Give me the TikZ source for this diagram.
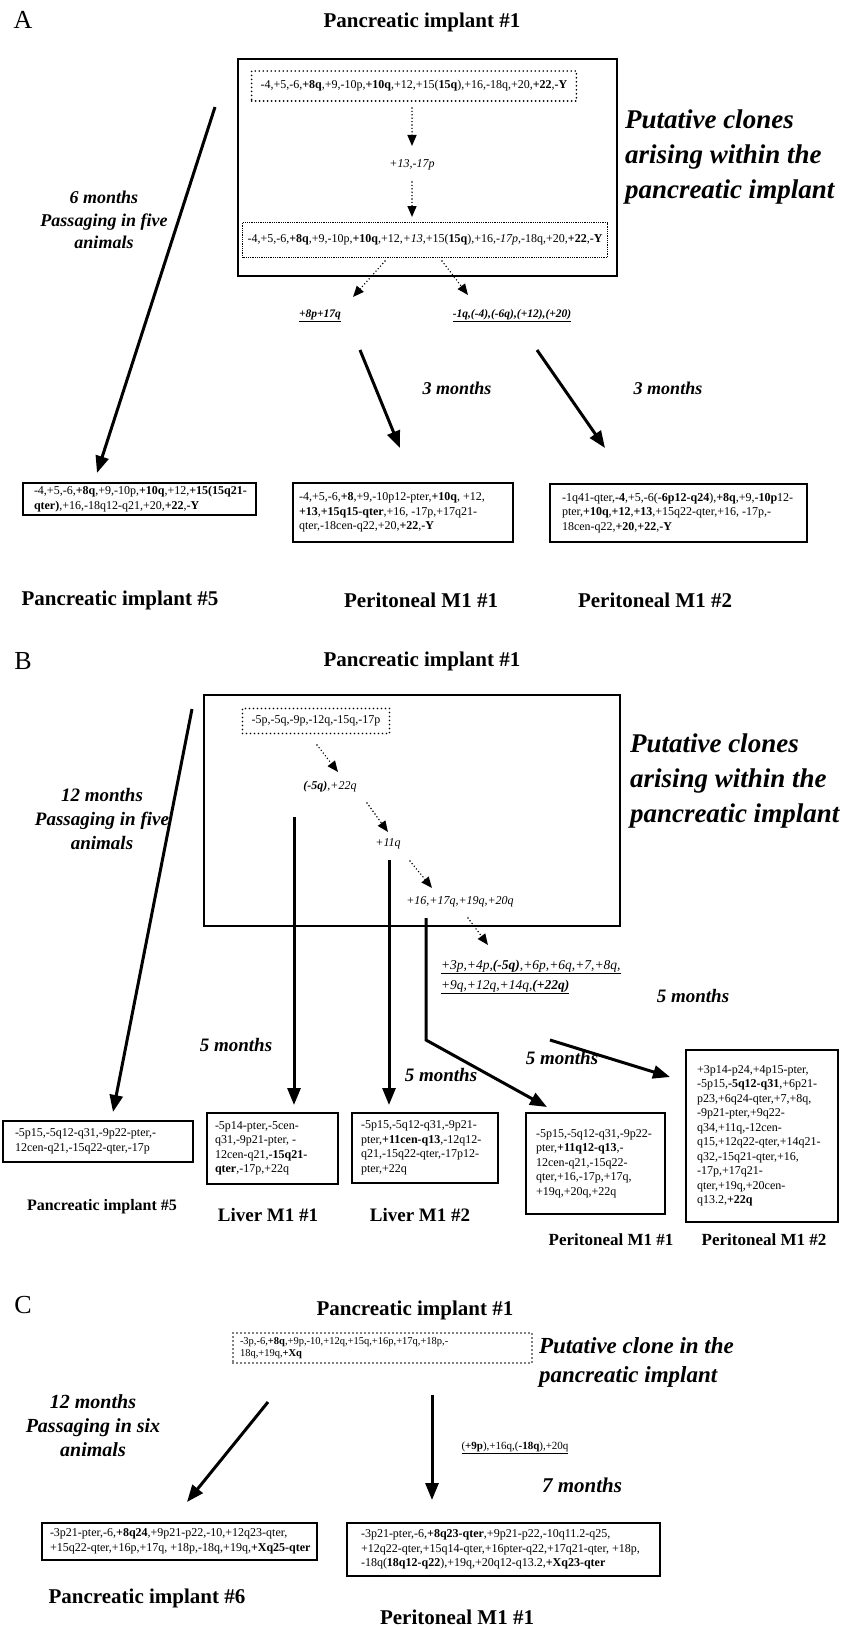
\documentclass[tikz,border=0pt]{standalone}
\usepackage{fontspec}
\setmainfont{Liberation Serif}
\usetikzlibrary{arrows.meta}
\newcommand{\fsz}[2]{\fontsize{#1}{#2}\selectfont}
\begin{document}
\begin{tikzpicture}[x=1pt,y=-1pt,
  every node/.style={inner sep=0pt,outer sep=0pt},
  paneltag/.style={font=\fsz{26}{30}},
  ttl/.style={font=\fsz{21}{25}\bfseries},
  side/.style={font=\fsz{27}{35}\bfseries\itshape,align=left,anchor=west},
  mlab/.style={font=\fsz{18}{22.5}\bfseries\itshape,align=center},
  btxt/.style={font=\fsz{12}{14.5},align=left,anchor=west},
  ittxt/.style={font=\fsz{12}{14.5}\itshape},
  sbox/.style={draw,line width=2.4pt,anchor=north west},
  bigbox/.style={draw,line width=2.6pt,anchor=north west},
  dotbox/.style={draw,line width=1.8pt,dash pattern=on 0pt off 4pt,line cap=round},
  finebox/.style={draw,line width=0.6pt,dash pattern=on 0.7pt off 1.1pt},
  bigarr/.style={line width=3pt,-{Triangle[length=17pt,width=13pt]}},
  dotarr/.style={line width=1.6pt,dash pattern=on 0pt off 3.4pt,line cap=round,-{Triangle[length=11pt,width=9pt]}},
]
\useasboundingbox (0,0) rectangle (849,1627);
\fill[white] (0,0) rectangle (849,1627);

%%%%%%%%%%%%%%%% Panel A
\node[paneltag] (tagA) at (23,20) {A};
\node[ttl] (ttlA) at (422,22) {Pancreatic implant \#1};
\node[bigbox,minimum width=379pt,minimum height=217pt] (bigA) at (238,59) {};
\node[dotbox,font=\fsz{12}{14.5},inner xsep=9pt,minimum height=30pt] (dA1) at (414,86)
  {-4,+5,-6,{\bfseries +8q},+9,-10p,{\bfseries +10q},+12,+15({\bfseries 15q}),+16,-18q,+20,{\bfseries +22},{\bfseries -Y}};
\node[ittxt] (t13) at (412,165) {+13,-17p};
\node[finebox,font=\fsz{12}{14.5},inner xsep=5pt,minimum height=35pt] (dA2) at (425,240)
  {-4,+5,-6,{\bfseries +8q},+9,-10p,{\bfseries +10q},+12,{\itshape +13},+15({\bfseries 15q}),+16,{\itshape -17p},-18q,+20,{\bfseries +22},{\bfseries -Y}};
\node[font=\fsz{11.5}{13}\bfseries\itshape] (l8p) at (320,316) {\underline{+8p+17q}};
\node[font=\fsz{11.5}{13}\bfseries\itshape] (l1q) at (512,316) {\underline{-1q,(-4),(-6q),(+12),(+20)}};

\coordinate (a1s) at (412,108); \coordinate (a1e) at (412,146);
\coordinate (a2s) at (412,182); \coordinate (a2e) at (412,217);
\coordinate (a3s) at (385,261); \coordinate (a3e) at (353,297);
\coordinate (a4s) at (442,261); \coordinate (a4e) at (468,295);
\coordinate (a5s) at (360,350); \coordinate (a5e) at (400,448);
\coordinate (a6s) at (537,350); \coordinate (a6e) at (605,448);
\coordinate (a7s) at (215,107); \coordinate (a7e) at (97,473);
\draw[dotarr] (a1s) -- (a1e);
\draw[dotarr] (a2s) -- (a2e);
\draw[dotarr] (a3s) -- (a3e);
\draw[dotarr] (a4s) -- (a4e);
\draw[bigarr] (a5s) -- (a5e);
\draw[bigarr] (a6s) -- (a6e);
\draw[bigarr] (a7s) -- (a7e);

\node[mlab] (mA1) at (457,388) {3 months};
\node[mlab] (mA2) at (668,388) {3 months};
\node[mlab] (mA0) at (104,220) {6 months\\Passaging in five\\animals};
\node[side] (sA) at (625,157) {Putative clones\\arising within the\\pancreatic implant};

\node[sbox,minimum width=233pt,minimum height=32pt] (bA5) at (23,483) {};
\node[btxt] (tA5) at ([xshift=11pt]bA5.west)
  {-4,+5,-6,{\bfseries +8q},+9,-10p,{\bfseries +10q},+12,{\bfseries +15(15q21-}\\{\bfseries qter)},+16,-18q12-q21,+20,{\bfseries +22},{\bfseries -Y}};
\node[sbox,minimum width=220pt,minimum height=59pt] (bAP1) at (293,483) {};
\node[btxt] (tAP1) at ([xshift=6pt]bAP1.west)
  {-4,+5,-6,{\bfseries +8},+9,-10p12-pter,{\bfseries +10q}, +12,\\{\bfseries +13},{\bfseries +15q15-qter},+16, -17p,+17q21-\\qter,-18cen-q22,+20,{\bfseries +22},{\bfseries -Y}};
\node[sbox,minimum width=257pt,minimum height=58pt] (bAP2) at (550,484) {};
\node[btxt] (tAP2) at ([xshift=12pt]bAP2.west)
  {-1q41-qter,{\bfseries -4},+5,-6({\bfseries -6p12-q24}),{\bfseries +8q},+9,{\bfseries -10p}12-\\pter,{\bfseries +10q},{\bfseries +12},{\bfseries +13},+15q22-qter,+16, -17p,-\\18cen-q22,{\bfseries +20},{\bfseries +22},{\bfseries -Y}};
\node[ttl] (labA5) at (120,600) {Pancreatic implant \#5};
\node[ttl] (labAP1) at (421,600) {Peritoneal M1 \#1};
\node[ttl] (labAP2) at (655,600) {Peritoneal M1 \#2};

%%%%%%%%%%%%%%%% Panel B
\node[paneltag] (tagB) at (23,661) {B};
\node[ttl] (ttlB) at (422,661) {Pancreatic implant \#1};
\node[bigbox,minimum width=416pt,minimum height=231pt] (bigB) at (204,695) {};
\node[dotbox,font=\fsz{12}{14.5},inner xsep=9pt,minimum height=25pt] (dB1) at (316,721) {-5p,-5q,-9p,-12q,-15q,-17p};
\node[ittxt] (tB1) at (330,787) {{\bfseries (-5q)},+22q};
\node[ittxt] (tB2) at (388,844) {+11q};
\node[ittxt] (tB3) at (460,902) {+16,+17q,+19q,+20q};
\node[font=\fsz{13.5}{20}\itshape,align=left,anchor=west] (tB4) at (441,977)
  {\underline{+3p,+4p,{\bfseries (-5q)},+6p,+6q,+7,+8q,}\\\underline{+9q,+12q,+14q,{\bfseries (+22q)}}};

\coordinate (b1s) at (317,745); \coordinate (b1e) at (338,772);
\coordinate (b2s) at (367,803); \coordinate (b2e) at (388,832);
\coordinate (b3s) at (410,861); \coordinate (b3e) at (432,888);
\coordinate (b4s) at (468,918); \coordinate (b4e) at (488,945);
\coordinate (l1s) at (294,817); \coordinate (l1e) at (294,1105);
\coordinate (l2s) at (389,860); \coordinate (l2e) at (389,1105);
\coordinate (l3s) at (426,918); \coordinate (l3m) at (426,1040); \coordinate (l3e) at (547,1107);
\coordinate (l4s) at (550,1040); \coordinate (l4e) at (670,1077);
\coordinate (bls) at (192,709); \coordinate (ble) at (113,1112);
\draw[dotarr] (b1s) -- (b1e);
\draw[dotarr] (b2s) -- (b2e);
\draw[dotarr] (b3s) -- (b3e);
\draw[dotarr] (b4s) -- (b4e);
\draw[bigarr] (l1s) -- (l1e);
\draw[bigarr] (l2s) -- (l2e);
\draw[bigarr,line join=miter] (l3s) -- (l3m) -- (l3e);
\draw[bigarr] (l4s) -- (l4e);
\draw[bigarr] (bls) -- (ble);

\node[mlab,font=\fsz{19}{24}\bfseries\itshape] (mB0) at (102,819) {12 months\\Passaging in five\\animals};
\node[mlab,font=\fsz{19}{24}\bfseries\itshape] (mB1) at (236,1045) {5 months};
\node[mlab,font=\fsz{19}{24}\bfseries\itshape] (mB2) at (441,1075) {5 months};
\node[mlab,font=\fsz{19}{24}\bfseries\itshape] (mB3) at (562,1058) {5 months};
\node[mlab,font=\fsz{19}{24}\bfseries\itshape] (mB4) at (693,996) {5 months};
\node[side] (sB) at (630,781) {Putative clones\\arising within the\\pancreatic implant};

\node[sbox,minimum width=190pt,minimum height=41pt] (bB5) at (3,1121) {};
\node[btxt] (tB5) at ([xshift=12pt]bB5.west) {-5p15,-5q12-q31,-9p22-pter,-\\12cen-q21,-15q22-qter,-17p};
\node[sbox,minimum width=131pt,minimum height=71pt] (bBL1) at (207,1113) {};
\node[btxt] (tBL1) at ([xshift=8pt]bBL1.west) {-5p14-pter,-5cen-\\q31,-9p21-pter, -\\12cen-q21,{\bfseries -15q21-}\\{\bfseries qter},-17p,+22q};
\node[sbox,minimum width=146pt,minimum height=70pt] (bBL2) at (352,1113) {};
\node[btxt] (tBL2) at ([xshift=9pt]bBL2.west) {-5p15,-5q12-q31,-9p21-\\pter,{\bfseries +11cen-q13},-12q12-\\q21,-15q22-qter,-17p12-\\pter,+22q};
\node[sbox,minimum width=139pt,minimum height=101pt] (bBP1) at (526,1113) {};
\node[btxt] (tBP1) at ([xshift=10pt]bBP1.west) {-5p15,-5q12-q31,-9p22-\\pter,{\bfseries +11q12-q13},-\\12cen-q21,-15q22-\\qter,+16,-17p,+17q,\\+19q,+20q,+22q};
\node[sbox,minimum width=152pt,minimum height=172pt] (bBP2) at (686,1050) {};
\node[btxt] (tBP2) at ([xshift=11pt]bBP2.west) {+3p14-p24,+4p15-pter,\\-5p15,{\bfseries -5q12-q31},+6p21-\\p23,+6q24-qter,+7,+8q,\\-9p21-pter,+9q22-\\q34,+11q,-12cen-\\q15,+12q22-qter,+14q21-\\q32,-15q21-qter,+16,\\-17p,+17q21-\\qter,+19q,+20cen-\\q13.2,{\bfseries +22q}};
\node[ttl,font=\fsz{16}{20}\bfseries] (labB5) at (102,1207) {Pancreatic implant \#5};
\node[ttl,font=\fsz{19}{23}\bfseries] (labBL1) at (268,1215) {Liver M1 \#1};
\node[ttl,font=\fsz{19}{23}\bfseries] (labBL2) at (420,1215) {Liver M1 \#2};
\node[ttl,font=\fsz{17}{21}\bfseries] (labBP1) at (611,1240) {Peritoneal M1 \#1};
\node[ttl,font=\fsz{17}{21}\bfseries] (labBP2) at (764,1240) {Peritoneal M1 \#2};

%%%%%%%%%%%%%%%% Panel C
\node[paneltag] (tagC) at (23,1305) {C};
\node[ttl] (ttlC) at (415,1310) {Pancreatic implant \#1};
\node[dotbox,minimum width=299pt,minimum height=30pt,anchor=north west] (dC) at (233,1333) {};
\node[font=\fsz{10.5}{12.5},align=left,anchor=west] (tdC) at ([xshift=7pt]dC.west) {-3p,-6,{\bfseries +8q},+9p,-10,+12q,+15q,+16p,+17q,+18p,-\\18q,+19q,{\bfseries +Xq}};
\node[side,font=\fsz{23}{29}\bfseries\itshape] (sC) at (539,1362) {Putative clone in the\\pancreatic implant};
\node[mlab,font=\fsz{20}{24}\bfseries\itshape] (mC0) at (93,1426) {12 months\\Passaging in six\\animals};
\node[font=\fsz{11}{13}] (tC1) at (515,1448) {\underline{({\bfseries +9p}),+16q,({\bfseries -18q}),+20q}};
\node[mlab,font=\fsz{21}{25}\bfseries\itshape] (mC1) at (582,1485) {7 months};

\coordinate (c1s) at (268,1402); \coordinate (c1e) at (187,1502);
\coordinate (c2s) at (432,1395); \coordinate (c2e) at (432,1500);
\draw[bigarr] (c1s) -- (c1e);
\draw[bigarr] (c2s) -- (c2e);

\node[sbox,minimum width=275pt,minimum height=37pt] (bC6) at (42,1523) {};
\node[btxt] (tC6) at ([xshift=8pt]bC6.west) {-3p21-pter,-6,{\bfseries +8q24},+9p21-p22,-10,+12q23-qter,\\+15q22-qter,+16p,+17q, +18p,-18q,+19q,{\bfseries +Xq25-qter}};
\node[sbox,minimum width=313pt,minimum height=53pt] (bCP) at (347,1523) {};
\node[btxt] (tCP) at ([xshift=14pt]bCP.west) {-3p21-pter,-6,{\bfseries +8q23-qter},+9p21-p22,-10q11.2-q25,\\+12q22-qter,+15q14-qter,+16pter-q22,+17q21-qter, +18p,\\-18q({\bfseries 18q12-q22}),+19q,+20q12-q13.2,{\bfseries +Xq23-qter}};
\node[ttl] (labC6) at (147,1598) {Pancreatic implant \#6};
\node[ttl] (labCP) at (457,1617) {Peritoneal M1 \#1};
\end{tikzpicture}
\end{document}
